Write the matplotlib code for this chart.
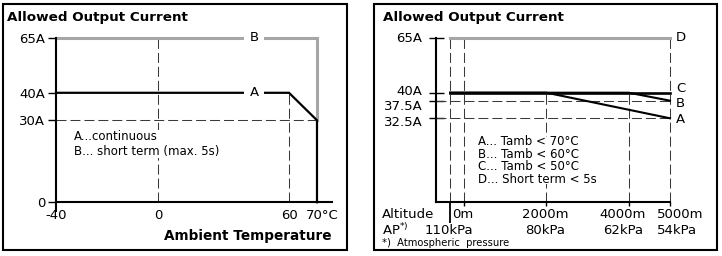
import numpy as np
import matplotlib
matplotlib.use("Agg")
import matplotlib.pyplot as plt
from matplotlib.patches import Rectangle
from matplotlib.transforms import ScaledTranslation

# ---------------- data: left panel (current vs ambient temperature) ----------
temp_ticks = [-40, 0, 60, 70]
temp_labels = ["-40", "0", "60", "70°C"]
cur_ticks_l = [0, 30, 40, 65]
cur_labels_l = ["0", "30A", "40A", "65A"]
temp_a = [-40, 60, 70, 70]
temp_a_cur = [40, 40, 30, 0]
temp_b = [-40, 70, 70]
temp_b_cur = [65, 65, 30]

# ---------------- data: right panel (current vs altitude) --------------------
alt_ticks = [0, 2000, 4000, 5000]
alt_labels = ["0m", "2000m", "4000m", "5000m"]
ap_pos = [-340, 2000, 4000, 5000]
ap_labels = ["110kPa", "80kPa", "62kPa", "54kPa"]
cur_ticks_r = [32.5, 37.5, 40, 65]
cur_labels_r = ["32.5A", "37.5A", "40A", "65A"]
alt_a = [-340, 2000, 5000]
alt_a_cur = [40, 40, 32.5]
alt_b = [-340, 4000, 5000]
alt_b_cur = [40, 40, 37.5]
alt_c = [-340, 5000]
alt_c_cur = [40, 40]
alt_d = [-340, 5000]
alt_d_cur = [65, 65]

W, H = 722, 256
fig = plt.figure(figsize=(W / 100, H / 100), dpi=100)
plt.rcParams['font.family'] = ['DejaVu Sans']

GRAY = '#a6a6a6'
DASH = '#3a3a3a'
DLS = (0, (9.6, 3.8))
TXT = 9.5
LEG = 8.5


def fx(px):
    return px / W


def fy(py):
    return 1 - py / H


def interp_scale(vals, px):
    vals = np.asarray(vals, float)
    px = np.asarray(px, float)
    return (lambda v: np.interp(v, vals, px), lambda p: np.interp(p, px, vals))


def shift(artist, dx_px, dy_px):
    artist.set_transform(artist.get_transform() +
                         ScaledTranslation(dx_px / 100, -dy_px / 100, fig.dpi_scale_trans))


def white_box(ax, x0, y0, x1, y1):
    ax.add_patch(Rectangle((fx(x0), fy(y1)), fx(x1 - x0), (y1 - y0) / H,
                           transform=fig.transFigure, fc='white', ec='none',
                           zorder=2.5, clip_on=False))


# panel borders
for x0, x1 in [(2.5, 347), (374, 717)]:
    fig.patches.append(Rectangle((fx(x0), fy(250)), fx(x1 - x0), (250 - 3.5) / H,
                                 transform=fig.transFigure, fill=False,
                                 edgecolor='black', lw=1.5))

AXIS_Y = 202.3
AX_H = 164.6

# ======================= left panel =========================================
axL = fig.add_axes([fx(56), fy(AXIS_Y), fx(332 - 56), AX_H / H])
axL.set_xscale('function', functions=interp_scale([-40, 0, 60, 70, 76], [56, 158, 289, 317, 332]))
axL.set_yscale('function', functions=interp_scale([0, 30, 40, 65], [0, 82, 109.5, 164.6]))
axL.set_xlim(-40, 76)
axL.set_ylim(0, 65)
axL.patch.set_alpha(0)
for s in ['top', 'right']:
    axL.spines[s].set_visible(False)
for s in ['left', 'bottom']:
    axL.spines[s].set_linewidth(1.5)

# guide lines
axL.plot([-40, 70], [30, 30], color=DASH, lw=0.75, ls=DLS, clip_on=False)
axL.plot([0, 0], [0, 65], color=DASH, lw=0.75, ls=DLS, clip_on=False)
axL.plot([60, 60], [0, 40], color=DASH, lw=0.75, ls=DLS, clip_on=False)
# curves
axL.plot(temp_b, temp_b_cur, color=GRAY, lw=2.2, clip_on=False, solid_joinstyle='miter')
axL.plot(temp_a, temp_a_cur, color='black', lw=1.6, clip_on=False, solid_joinstyle='miter')
bb = dict(boxstyle='square,pad=0.4', fc='white', ec='none')
axL.text(44, 65, "B", ha='center', va='center', fontsize=TXT, bbox=bb)
axL.text(44, 40, "A", ha='center', va='center', fontsize=TXT, bbox=bb)
white_box(axL, 70, 130, 226, 158)

axL.set_yticks(cur_ticks_l, cur_labels_l, fontsize=TXT)
axL.tick_params(axis='y', direction='out', length=5.8, width=1, pad=2)
axL.set_xticks(temp_ticks, temp_labels, fontsize=TXT)
axL.tick_params(axis='x', length=0, pad=5)
t0 = axL.xaxis.get_major_ticks()[0]
t0.tick1line.set_markersize(7.2)
t0.tick1line.set_markeredgewidth(1.5)
shift(axL.get_xticklabels()[-1], 5, 0)

fig.text(fx(7), fy(18), "Allowed Output Current", fontsize=9.7, fontweight='bold', ha='left', va='center')
fig.text(fx(332), fy(236), "Ambient Temperature", fontsize=9.8, fontweight='bold', ha='right', va='center')
fig.text(fx(74), fy(144), "A...continuous\nB... short term (max. 5s)", fontsize=LEG,
         ha='left', va='center', linespacing=1.2)

# ======================= right panel ========================================
axR = fig.add_axes([fx(436), fy(AXIS_Y), fx(670 - 436), AX_H / H])
axR.set_xlim(-683, 5000)
axR.set_yscale('function', functions=interp_scale([0, 32.5, 37.5, 40, 65], [0, 84, 101.6, 109.6, 164.6]))
axR.set_ylim(0, 65)
axR.patch.set_alpha(0)
for s in ['top', 'right']:
    axR.spines[s].set_visible(False)
for s in ['left', 'bottom']:
    axR.spines[s].set_linewidth(1.5)

# guide lines
for yv in [37.5, 32.5]:
    axR.plot([-683, 5000], [yv, yv], color=DASH, lw=0.75, ls=DLS, clip_on=False)
for xv, top in [(ap_pos[0], 65), (0, 65), (2000, 40), (4000, 40), (5000, 65)]:
    axR.plot([xv, xv], [0, top], color=DASH, lw=0.75, ls=DLS, clip_on=False)
# curves
axR.plot(alt_d, alt_d_cur, color=GRAY, lw=2.2, clip_on=False)
axR.plot(alt_a, alt_a_cur, color='black', lw=1.5, clip_on=False)
axR.plot(alt_b, alt_b_cur, color='black', lw=1.5, clip_on=False)
axR.plot(alt_c, alt_c_cur, color='black', lw=1.9, clip_on=False)
white_box(axR, 474, 137, 602, 184)

for lab, yv, dy in [("D", 65, 0), ("C", 40, 4), ("B", 37.5, -3), ("A", 32.5, -1)]:
    axR.annotate(lab, xy=(5000, yv), xycoords='data', xytext=(6, dy), textcoords='offset pixels',
                 ha='left', va='center', fontsize=TXT)

axR.set_yticks(cur_ticks_r, cur_labels_r, fontsize=TXT)
axR.tick_params(axis='y', direction='inout', length=10.8, width=1, pad=4.5)
for lab, dy in zip(axR.get_yticklabels(), [2.4, 4, -2.5, -1]):
    shift(lab, 0, dy)
axR.set_xticks([ap_pos[0]] + alt_ticks, [""] * 5)
axR.tick_params(axis='x', direction='out', length=3, width=1)
tk = axR.xaxis.get_major_ticks()[0]
tk.tick1line.set_markersize(15)
tk.tick1line.set_markeredgewidth(1.3)

alt_dx = [-1, -1, -6, 10]
for v, lab, dx in zip(alt_ticks, alt_labels, alt_dx):
    axR.annotate(lab, xy=(v, 0), xycoords=('data', 'axes fraction'), xytext=(dx, -12),
                 textcoords='offset pixels', ha='center', va='center', fontsize=TXT)
ap_dx = [-1, -1, -6, 7]
for v, lab, dx in zip(ap_pos, ap_labels, ap_dx):
    axR.annotate(lab, xy=(v, 0), xycoords=('data', 'axes fraction'), xytext=(dx, -28),
                 textcoords='offset pixels', ha='center', va='center', fontsize=TXT)

fig.text(fx(383), fy(17), "Allowed Output Current", fontsize=9.7, fontweight='bold', ha='left', va='center')
fig.text(fx(382), fy(214), "Altitude", fontsize=TXT, ha='left', va='center')
fig.text(fx(382), fy(230), r"AP$^{*)}$", fontsize=TXT, ha='left', va='center')
fig.text(fx(382), fy(243), "*)  Atmospheric  pressure", fontsize=7.2, ha='left', va='center')
leg_lines = ["A... Tamb < 70°C", "B... Tamb < 60°C", "C... Tamb < 50°C", "D... Short term < 5s"]
fig.text(fx(478), fy(160.5), "\n".join(leg_lines), fontsize=LEG, ha='left', va='center',
         linespacing=0.98)

fig.savefig("out.png", dpi=100)
